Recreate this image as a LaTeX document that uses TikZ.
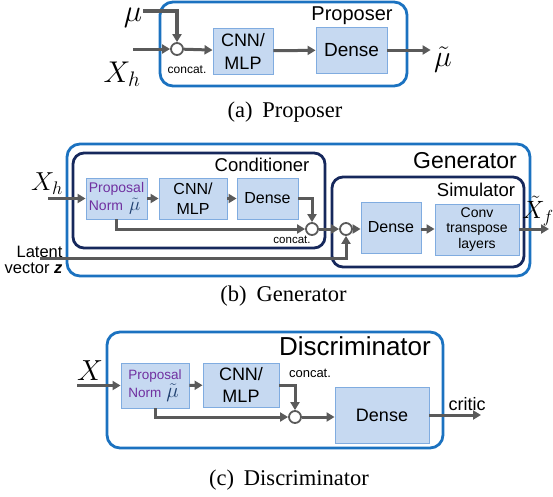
\documentclass[tikz,border=0pt]{standalone}
\usepackage{fix-cm}
\usepackage{fontspec}
\setmainfont{Liberation Serif}
\setsansfont{Liberation Sans}
\usetikzlibrary{positioning,arrows.meta}

\definecolor{outerblue}{RGB}{27,114,192}
\definecolor{navy}{RGB}{22,40,92}
\definecolor{boxfill}{RGB}{198,217,241}
\definecolor{boxline}{RGB}{128,172,224}
\definecolor{flowgray}{RGB}{90,90,90}
\definecolor{normpurple}{RGB}{112,48,160}
\definecolor{mudark}{RGB}{31,63,111}

\begin{document}
\begin{tikzpicture}[x=1pt, y=-1pt, >={Triangle[length=8pt,width=9pt]},
  outer/.style={draw=outerblue, line width=2.8pt, rounded corners=13pt, inner sep=0},
  inner/.style={draw=navy, line width=2.8pt, rounded corners=11pt, inner sep=0},
  block/.style 2 args={draw=boxline, fill=boxfill, line width=0.9pt,
    minimum width=#1, minimum height=#2, inner sep=0, align=center},
  junction/.style={circle, draw=flowgray, fill=white, line width=1.8pt,
    minimum size=12pt, inner sep=0},
  flow/.style={draw=flowgray, line width=3pt, ->},
  caption/.style={font=\rmfamily\fontsize{22.5}{23}\selectfont},
  every node/.style={font=\sffamily}]

\useasboundingbox (0,0) rectangle (553,496);

% (a) Proposer
\node [outer, minimum width=247, minimum height=84] (proposer) at (283.5,44) {};
\node [font=\sffamily\fontsize{20}{20}\selectfont] (proposer-title) at (352,16) {Proposer};
\node [block={60}{46}, font=\sffamily\fontsize{18}{23}\selectfont] (cnn-a) at (243,51) {CNN/\\MLP};
\node [block={71}{46}, font=\sffamily\fontsize{19}{20}\selectfont] (dense-a) at (351.5,50) {Dense};
\node [junction] (cat-a) at (177,49) {};
\node [font=\sffamily\fontsize{12}{12}\selectfont] (concat-a) at (187,70) {concat.};
\node [inner sep=1pt, font=\fontsize{31}{31}\selectfont] (mu-a) at (133,18) {$\mu$};
\node [font=\fontsize{30}{30}\selectfont] (xh-a) at (122,74) {$X_h$};
\node [font=\fontsize{30}{30}\selectfont] (mut-a) at (443,60) {$\tilde{\mu}$};
\coordinate (xh-a-in) at (133,49);

\draw [flow] (xh-a-in) -- (cat-a);
\draw [flow, line width=4pt] ([yshift=7pt]mu-a.east) -| (cat-a);
\draw [flow] (cat-a) -- (cnn-a);
\draw [flow] (cnn-a) -- (dense-a);
\draw [flow] (dense-a.east) -- (dense-a.east -| mut-a.west);

\node [caption] (cap-a) at (285,112) {(a)\hspace{10pt}Proposer};

% (b) Generator
\node [outer, minimum width=463, minimum height=132] (generator) at (298.5,210) {};
\node [font=\sffamily\fontsize{23}{23}\selectfont] (generator-title) at (465,161) {Generator};
\node [inner, minimum width=252, minimum height=95] (conditioner) at (199,200.5) {};
\node [font=\sffamily\fontsize{18.5}{19}\selectfont] (conditioner-title) at (262,165) {Conditioner};
\node [inner, minimum width=192, minimum height=90] (simulator) at (428,222) {};
\node [font=\sffamily\fontsize{18.5}{19}\selectfont] (simulator-title) at (476,190) {Simulator};

\node [block={61}{41}, align=left, font=\sffamily\fontsize{14}{18}\selectfont] (pn-b) at (116.5,198.5)
  {\textcolor{normpurple}{Proposal}\\\textcolor{normpurple}{Norm}\hspace{6pt}\textcolor{mudark}{\fontsize{19}{19}\selectfont$\tilde{\mu}$}};
\node [block={68}{41}, font=\sffamily\fontsize{16}{20}\selectfont] (cnn-b) at (193,198.5) {CNN/\\MLP};
\node [block={61}{41}, font=\sffamily\fontsize{16}{17}\selectfont] (dense-b) at (267.5,198.5) {Dense};
\node [junction] (cat-b1) at (312,229) {};
\node [junction] (cat-b2) at (346,229) {};
\node [font=\sffamily\fontsize{11.5}{12}\selectfont] (concat-b) at (292,240) {concat.};
\node [block={60}{51}, font=\sffamily\fontsize{16}{17}\selectfont] (dense-sim) at (391,227.5) {Dense};
\node [block={84}{51}, font=\sffamily\fontsize{14}{15.5}\selectfont] (conv) at (477,229.5) {Conv\\transpose\\layers};

\node [font=\fontsize{26}{26}\selectfont] (xh-b) at (47,184) {$X_h$};
\node [font=\fontsize{25}{25}\selectfont] (xf) at (538,211) {$\tilde{X}_f$};
\node [align=right, anchor=east, font=\sffamily\fontsize{16.5}{16.5}\selectfont] (latent) at (66,260)
  {Latent\\vector \textbf{\textit{z}}};
\coordinate (xh-b-in) at (48,198.5);
\coordinate (z-in) at (40,258);
\coordinate (xf-out) at (549,229.5);

\draw [flow] (xh-b-in) -- (pn-b);
\draw [flow] (pn-b) -- (cnn-b);
\draw [flow] (cnn-b) -- (dense-b);
\draw [flow] (pn-b.south) |- (cat-b1);
\draw [flow] (dense-b.east) -| (cat-b1);
\draw [flow] (cat-b1) -- (cat-b2);
\draw [flow] (z-in) -| (cat-b2);
\draw [flow] (cat-b2) -- (dense-sim.west |- cat-b2);
\draw [flow] (dense-sim.east |- cat-b2) -- (conv.west |- cat-b2);
\draw [flow] (conv.east |- cat-b2) -- (xf-out |- cat-b2);

\node [caption] (cap-b) at (283.5,296) {(b)\hspace{10pt}Generator};

% (c) Discriminator
\node [outer, minimum width=336, minimum height=116] (discriminator) at (275,390) {};
\node [font=\sffamily\fontsize{26}{26}\selectfont] (discriminator-title) at (355,346) {Discriminator};
\node [block={68}{45}, align=left, font=\sffamily\fontsize{13.5}{18}\selectfont] (pn-c) at (155,385.5)
  {\textcolor{normpurple}{Proposal}\\\textcolor{normpurple}{Norm}\hspace{5pt}\textcolor{mudark}{\fontsize{21}{21}\selectfont$\tilde{\mu}$}};
\node [block={76}{44}, font=\sffamily\fontsize{18}{22}\selectfont] (cnn-c) at (241,385) {CNN/\\MLP};
\node [block={94}{56}, font=\sffamily\fontsize{18}{19}\selectfont] (dense-c) at (382,415) {Dense};
\node [junction] (cat-c) at (295,417) {};
\node [font=\sffamily\fontsize{13}{13}\selectfont] (concat-c) at (310,373) {concat.};
\node [font=\fontsize{29}{29}\selectfont] (x-c) at (90,371) {$X$};
\node [font=\sffamily\fontsize{18}{18}\selectfont] (critic) at (467,404) {critic};
\coordinate (x-c-in) at (77,385.5);
\coordinate (critic-out) at (481,415);

\draw [flow] (x-c-in) -- (pn-c);
\draw [flow] (pn-c) -- (cnn-c);
\draw [flow] (cnn-c.east) -| (cat-c);
\draw [flow] (pn-c.south) |- (cat-c);
\draw [flow] (cat-c) -- (dense-c.west |- cat-c);
\draw [flow] (dense-c.east |- critic-out) -- (critic-out);

\node [caption] (cap-c) at (289,480) {(c)\hspace{10pt}Discriminator};

\end{tikzpicture}
\end{document}
